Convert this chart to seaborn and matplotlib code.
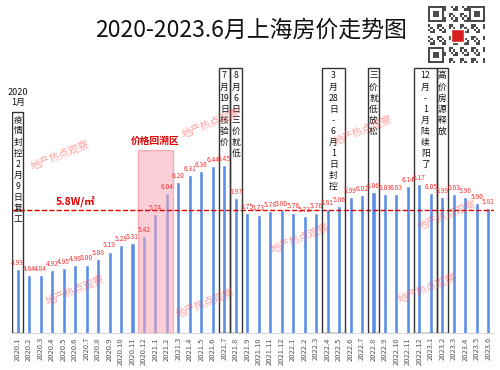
import numpy as np
import pandas as pd
import matplotlib
matplotlib.use("Agg")
import matplotlib.pyplot as plt
from matplotlib.patches import Rectangle
import seaborn as sns

months = [f"{y}.{m}" for y in range(2020, 2024) for m in range(1, 13)][:42]
prices = [4.93, 4.84, 4.84, 4.92, 4.95, 4.99, 5.00, 5.08, 5.19, 5.28, 5.31, 5.42,
          5.74, 6.04, 6.20, 6.31, 6.36, 6.44, 6.45, 5.97, 5.75, 5.73, 5.78, 5.80,
          5.76, 5.71, 5.76, 5.81, 5.86, 5.99, 6.02, 6.06, 6.03, 6.03, 6.14, 6.17,
          6.05, 5.99, 6.03, 5.98, 5.90, 5.82]

ref_price = 5.8
ref_label = "5.8W/㎡"

# event boxes: (first month index, number of months, top, text lines)
events = [
    (0, 1, 7.23, ["疫", "情", "封", "控", "2", "月", "9", "日", "复", "工"]),
    (18, 1, 7.87, ["7", "月", "19", "日", "核", "验", "价"]),
    (19, 1, 7.87, ["8", "月", "6", "日", "三", "价", "就", "低"]),
    (27, 2, 7.87, ["3", "月", "28", "日", "-", "6", "月", "1", "日", "封", "控"]),
    (31, 1, 7.87, ["三", "价", "就", "低", "放", "松"]),
    (35, 2, 7.87, ["12", "月", "-", "1", "月", "陆", "续", "阳", "了"]),
    (37, 1, 7.87, ["高", "价", "房", "源", "释", "放"]),
]

# price rollback zone 2020.12 - 2021.2
zone_start, zone_len, zone_top = 11, 3, 6.68
zone_label = "价格回溯区"

watermark = "地产热点观察"
wm_pos = [(60, 155), (75, 290), (205, 303), (211, 123), (300, 238),
          (363, 130), (447, 215), (427, 288)]

sns.set_style("white")
plt.rcParams["font.family"] = ["Noto Sans CJK SC", "DejaVu Sans"]

df = pd.DataFrame({"month": months, "price": prices})

fig = plt.figure(figsize=(5, 3.7), dpi=100)
ax = fig.add_axes([0.024, 0.1, 0.964, 0.7216])

sns.barplot(data=df, x="month", y="price", color="#5b8fe6", width=0.35,
            saturation=1, ax=ax, zorder=2)
ax.set_ylim(4, 7.9)
ax.set_xlim(-0.5, len(months) - 0.5)

for i, v in enumerate(prices):
    ax.annotate(f"{v:.2f}", (i, v), xytext=(0, 1.5), textcoords="offset points",
                ha="center", va="bottom", fontsize=4.8, color="#ff3030", zorder=5)

# rollback zone
ax.add_patch(Rectangle((zone_start - 0.5, 4), zone_len, zone_top - 4,
                       facecolor="#f7a8b8", edgecolor="#f08090", alpha=0.55,
                       linewidth=1, zorder=3))
ax.text(zone_start - 0.5 + zone_len / 2, zone_top + 0.05, zone_label,
        ha="center", va="bottom", fontsize=7, color="#e00000",
        fontweight="bold", zorder=5)

# reference line
ax.axhline(ref_price, color="#e00000", linestyle="--", linewidth=1, zorder=4)
ax.text(5, ref_price + 0.04, ref_label, ha="center", va="bottom", fontsize=7.5,
        color="#e00000", fontweight="bold", zorder=5)

# event boxes
for start, n, top, lines in events:
    ax.add_patch(Rectangle((start - 0.5, 4), n, top - 4, facecolor="none",
                           edgecolor="#333333", linewidth=1, zorder=4))
    ax.text(start - 0.5 + n / 2, top - 0.05, "\n".join(lines), ha="center",
            va="top", fontsize=6.3, linespacing=1.3, color="#111111", zorder=5)

ax.text(0, 7.3, "2020\n1月", ha="center", va="bottom", fontsize=6.5,
        linespacing=1.1, color="#111111")

ax.set_xlabel("")
ax.set_ylabel("")
ax.set_yticks([])
ax.tick_params(axis="x", length=0, pad=3)
plt.setp(ax.get_xticklabels(), rotation=90, fontsize=5.5, color="#555555")
for s in ["top", "left", "right"]:
    ax.spines[s].set_visible(False)
ax.spines["bottom"].set_color("#d8d8d8")

fig.text(0.502, 1 - 30 / 370, "2020-2023.6月上海房价走势图", ha="center",
         va="center", fontsize=16.5, color="#111111")

for x, y in wm_pos:
    fig.text(x / 500, 1 - y / 370, watermark, ha="center", va="center",
             fontsize=7.5, color="#ff5050", alpha=0.55, rotation=22, zorder=6)

# qr-like badge in the corner
qr = np.zeros((25, 25))
for r in range(25):
    for c in range(25):
        qr[r, c] = ((r * 7 + c * 3 + r * c) % 5) < 2
for r0, c0 in [(0, 0), (0, 18), (18, 0)]:
    qr[r0:r0 + 7, c0:c0 + 7] = 1
    qr[r0 + 1:r0 + 6, c0 + 1:c0 + 6] = 0
    qr[r0 + 2:r0 + 5, c0 + 2:c0 + 5] = 1
qax = fig.add_axes([428 / 500, 1 - 63 / 370, 57 / 500, 57 / 370])
qax.imshow(qr, cmap="Greys", interpolation="nearest", vmin=0, vmax=1.3)
qax.add_patch(Rectangle((9.5, 9.5), 6, 6, facecolor="#d81e1e", edgecolor="white"))
qax.axis("off")

fig.savefig("out.png", dpi=100)
